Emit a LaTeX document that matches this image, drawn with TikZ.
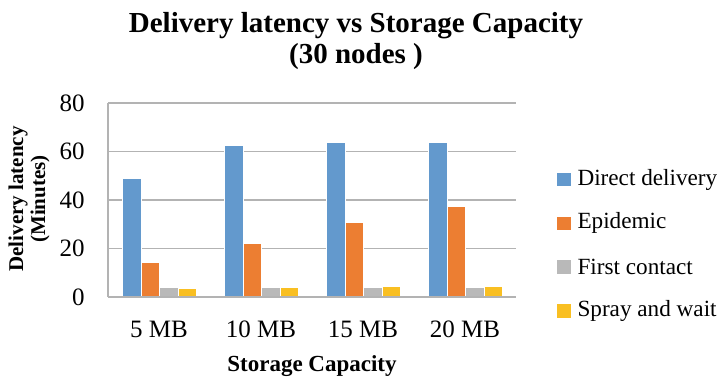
\documentclass[tikz,border=0pt]{standalone}
\usepackage{fontspec}
\setmainfont{Liberation Serif}
\usetikzlibrary{positioning}
\definecolor{ddblue}{HTML}{6399CD}
\definecolor{eporange}{HTML}{EC7E32}
\definecolor{fcgray}{HTML}{B9B9B9}
\definecolor{swyellow}{HTML}{F9BF22}
\definecolor{gridgray}{HTML}{B3B3B3}

\begin{document}
\begin{tikzpicture}[x=0.5pt, y=-0.5pt,
		gridline/.style={gridgray, line width=0.75pt},
		bar/.style={draw=white, line width=0.3pt},
		legbox/.style={minimum size=6.7pt, inner sep=0pt},
		ticklbl/.style={font=\fontsize{12.5}{14}\selectfont},
		legtxt/.style={font=\fontsize{11.6}{13}\selectfont, inner sep=0pt}]
		\useasboundingbox (0,0) rectangle (721,379);
			%gridlines:
			\foreach \v in {0,20,...,80}{
			\draw[gridline] (108, {297-\v*2.425}) -- (516, {297-\v*2.425});
			\node[ticklbl, anchor=east, inner sep=0pt] (y\v) at (85, {297-\v*2.425}) {\v};
			}
			\draw[gridline] (108, 297) -- (108, 103);

			%bars:
			\foreach \i/\dd/\ep/\fc/\sw in {0/49/14.3/4.1/3.6, 1/62.4/22.1/4.1/4.1, 2/63.9/30.8/4.1/4.4, 3/63.9/37.5/4.1/4.5}
			\foreach \s/\v/\c in {0/\dd/ddblue, 1/\ep/eporange, 2/\fc/fcgray, 3/\sw/swyellow}
			\filldraw[bar, fill=\c] ({122.7+102*\i+18.5*\s}, 297) rectangle +(18.5, {-\v*2.425});
			\draw[gridline] (108, 297) -- (516, 297);

			%categories
			\foreach \i/\t in {0/5 MB, 1/10 MB, 2/15 MB, 3/20 MB}
			\node[ticklbl] (cat\i) at ({159+102*\i}, 329) {\t};

			%titles
			\node[font=\bfseries\fontsize{14.5}{15.5}\selectfont, align=center] (title) at (356, 41) {Delivery latency vs Storage Capacity\\(30 nodes )};
			\node[font=\bfseries\fontsize{11.5}{13}\selectfont] (xtitle) at (312, 366) {Storage Capacity};
			\node[font=\bfseries\fontsize{10.5}{11}\selectfont, rotate=90, align=center] (ytitle) at (29, 199) {Delivery latency\\(Minutes)};

			%legend
			\node[legbox, fill=ddblue] (k1) at (564, 179.5) {};
			\node[legbox, fill=eporange, below=14.8pt of k1] (k2) {};
			\node[legbox, fill=fcgray, below=14.8pt of k2] (k3) {};
			\node[legbox, fill=swyellow, below=14.8pt of k3] (k4) {};
			\node[legtxt, right=3pt of k1] (l1) {Direct delivery};
			\node[legtxt, right=3pt of k2] (l2) {Epidemic};
			\node[legtxt, right=3pt of k3] (l3) {First contact};
			\node[legtxt, right=3pt of k4] (l4) {Spray and wait};
	\end{tikzpicture}
\end{document}
